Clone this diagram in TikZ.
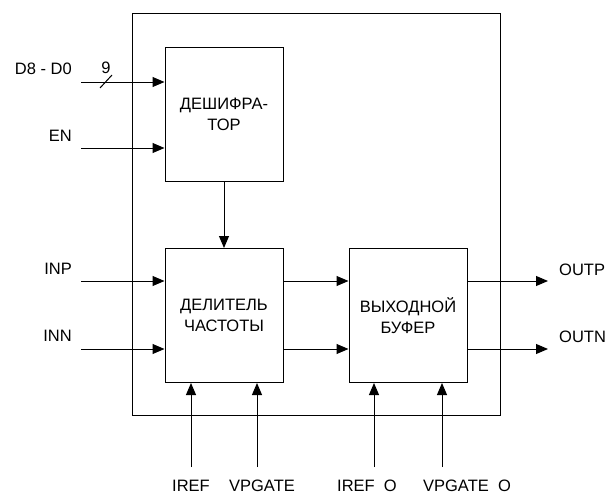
\documentclass[tikz,border=0pt]{standalone}
\usepackage{fontspec}
\setmainfont{Liberation Sans}
\usepackage{tikz}
\usetikzlibrary{arrows.meta, positioning}

\tikzset{
  block/.style={draw, line width=1pt, minimum width=118pt, minimum height=134pt,
    inner sep=0pt, align=center},
  sig/.style={line width=1pt, -{Triangle[length=12pt, width=10pt]}},
  pin/.style={inner sep=0pt}
}

\begin{document}
\begin{tikzpicture}[x=1pt, y=-1pt, font=\fontsize{16.5}{21}\selectfont]
    \useasboundingbox (0,0) rectangle (613,495);
    % chip outline and blocks
    \node[draw, line width=1pt, minimum width=368pt, minimum height=401pt, inner sep=0pt] (chip) at (316,214.5) {};
    \node[block] (dec) at (224,114.5) {ДЕШИФРА-\\ТОР};
    \node[block] (div) at (224,315.5) {ДЕЛИТЕЛЬ\\ЧАСТОТЫ};
    \node[block] (buf) at (408,315.5) {ВЫХОДНОЙ\\БУФЕР};

    % inputs
    \coordinate (dIn) at (81,82);
    \coordinate (enIn) at (81,148);
    \coordinate (pIn) at (81,281);
    \coordinate (nIn) at (81,349);
    \draw[sig] (dIn) -- (dIn -| dec.west);
    \draw[sig] (enIn) -- (enIn -| dec.west);
    \draw[sig] (pIn) -- (pIn -| div.west);
    \draw[sig] (nIn) -- (nIn -| div.west);
    \draw[line width=1pt] (100,88) -- (112,75);
    \node[pin] (busw) at (106,68) {9};
    \node[pin, anchor=east] (dLbl) at (72,69) {D8 - D0};
    \node[pin, anchor=east] (enLbl) at (72,136) {EN};
    \node[pin, anchor=east] (pLbl) at (72,269) {INP};
    \node[pin, anchor=east] (nLbl) at (72,336) {INN};

    % internal links
    \draw[sig] (dec.south) -- (div.north);
    \draw[sig] (pIn -| div.east) -- (pIn -| buf.west);
    \draw[sig] (nIn -| div.east) -- (nIn -| buf.west);

    % outputs
    \coordinate (pOut) at (548,281);
    \coordinate (nOut) at (548,349);
    \draw[sig] (pOut -| buf.east) -- (pOut);
    \draw[sig] (nOut -| buf.east) -- (nOut);
    \node[pin, anchor=west] (pOutLbl) at (559,270) {OUTP};
    \node[pin, anchor=west] (nOutLbl) at (559,337) {OUTN};

    % bias pins
    \coordinate (iref) at (191,467);
    \coordinate (vpg) at (257,467);
    \coordinate (irefO) at (374,467);
    \coordinate (vpgO) at (442,467);
    \draw[sig] (iref) -- (iref |- div.south);
    \draw[sig] (vpg) -- (vpg |- div.south);
    \draw[sig] (irefO) -- (irefO |- buf.south);
    \draw[sig] (vpgO) -- (vpgO |- buf.south);
    \node[pin] (irefLbl) at (191,486) {IREF};
    \node[pin] (vpgLbl) at (262,486) {VPGATE};
    \node[pin] (irefOLbl) at (367,486) {IREF\ \ O};
    \node[pin] (vpgOLbl) at (467,486) {VPGATE\ \ O};
\end{tikzpicture}
\end{document}
